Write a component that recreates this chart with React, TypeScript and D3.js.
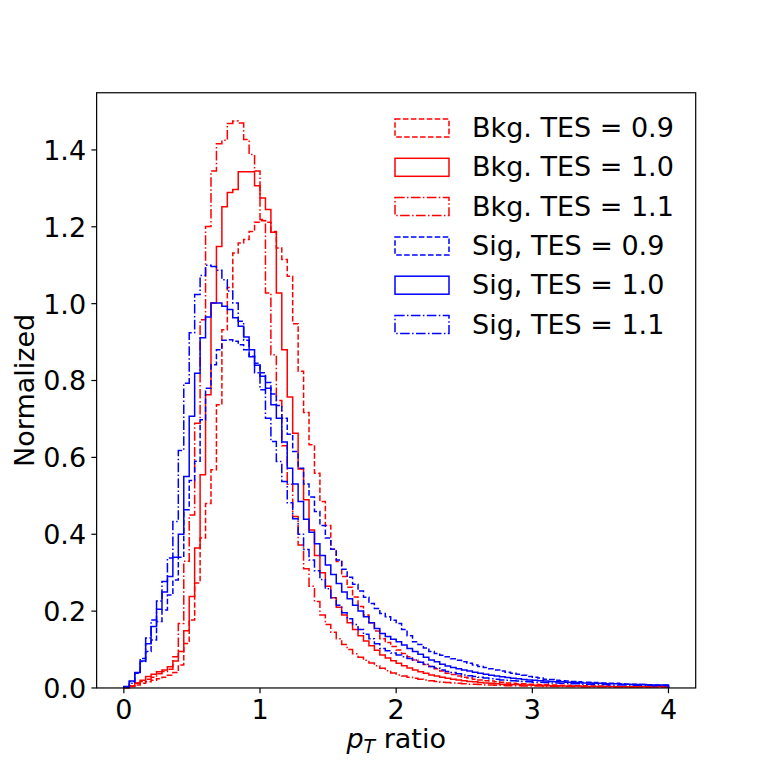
import React from 'react';
import * as d3 from 'd3';

// histogram bins: 100 bins of width 0.04 between 0 and 4
const BIN_MIN = 0;
const BIN_MAX = 4;
const N_BINS = 100;

const bkg09 = [
  0.002, 0.005, 0.008, 0.012, 0.016, 0.02, 0.024, 0.028, 0.033, 0.04,
  0.06, 0.116, 0.177, 0.273, 0.39, 0.48, 0.568, 0.737, 0.932, 1.042,
  1.132, 1.158, 1.167, 1.188, 1.212, 1.216, 1.212, 1.188, 1.145, 1.115,
  1.071, 0.948, 0.824, 0.717, 0.633, 0.559, 0.485, 0.423, 0.361, 0.329,
  0.29, 0.262, 0.237, 0.212, 0.19, 0.17, 0.148, 0.128, 0.118, 0.108,
  0.099, 0.09, 0.081, 0.073, 0.067, 0.061, 0.056, 0.05, 0.044, 0.038,
  0.035, 0.031, 0.028, 0.026, 0.023, 0.021, 0.019, 0.018, 0.016, 0.015,
  0.013, 0.012, 0.011, 0.011, 0.01, 0.01, 0.009, 0.009, 0.008, 0.008,
  0.007, 0.007, 0.006, 0.006, 0.006, 0.005, 0.005, 0.005, 0.005, 0.004,
  0.004, 0.004, 0.004, 0.004, 0.003, 0.003, 0.003, 0.003, 0.003, 0.003,
];

const bkg10 = [
  0.0, 0.004, 0.012, 0.02, 0.03, 0.036, 0.042, 0.047, 0.055, 0.07,
  0.095, 0.149, 0.238, 0.364, 0.555, 0.763, 1.002, 1.149, 1.252, 1.289,
  1.297, 1.343, 1.343, 1.343, 1.307, 1.275, 1.245, 1.186, 1.028, 0.88,
  0.757, 0.663, 0.57, 0.49, 0.411, 0.345, 0.3, 0.265, 0.235, 0.21,
  0.19, 0.17, 0.152, 0.136, 0.122, 0.11, 0.098, 0.086, 0.078, 0.071,
  0.064, 0.058, 0.052, 0.047, 0.042, 0.038, 0.034, 0.031, 0.028, 0.025,
  0.023, 0.021, 0.019, 0.017, 0.016, 0.014, 0.013, 0.012, 0.011, 0.01,
  0.01, 0.009, 0.009, 0.008, 0.008, 0.007, 0.007, 0.006, 0.006, 0.006,
  0.005, 0.005, 0.005, 0.005, 0.004, 0.004, 0.004, 0.004, 0.004, 0.004,
  0.003, 0.003, 0.003, 0.003, 0.003, 0.003, 0.003, 0.003, 0.003, 0.003,
];

const bkg11 = [
  0.002, 0.006, 0.013, 0.017, 0.023, 0.028, 0.037, 0.043, 0.049, 0.081,
  0.168, 0.33, 0.45, 0.689, 0.958, 1.201, 1.345, 1.416, 1.425, 1.469,
  1.475, 1.47, 1.427, 1.388, 1.345, 1.219, 1.028, 0.867, 0.748, 0.63,
  0.53, 0.446, 0.372, 0.31, 0.265, 0.225, 0.19, 0.165, 0.145, 0.128,
  0.113, 0.1, 0.089, 0.08, 0.072, 0.065, 0.058, 0.051, 0.045, 0.039,
  0.034, 0.031, 0.028, 0.025, 0.023, 0.021, 0.019, 0.017, 0.015, 0.014,
  0.013, 0.012, 0.011, 0.01, 0.01, 0.009, 0.008, 0.008, 0.007, 0.007,
  0.006, 0.006, 0.006, 0.005, 0.005, 0.005, 0.005, 0.004, 0.004, 0.004,
  0.004, 0.004, 0.004, 0.004, 0.003, 0.003, 0.003, 0.003, 0.003, 0.003,
  0.003, 0.003, 0.003, 0.003, 0.003, 0.003, 0.003, 0.003, 0.003, 0.003,
];

const sig09 = [
  0.002, 0.017, 0.038, 0.069, 0.095, 0.125, 0.173, 0.203, 0.242, 0.281,
  0.34, 0.464, 0.54, 0.59, 0.698, 0.78, 0.841, 0.88, 0.905, 0.906,
  0.902, 0.893, 0.88, 0.863, 0.845, 0.82, 0.795, 0.765, 0.735, 0.702,
  0.66, 0.615, 0.572, 0.531, 0.497, 0.459, 0.423, 0.39, 0.361, 0.333,
  0.309, 0.288, 0.27, 0.252, 0.236, 0.22, 0.207, 0.194, 0.185, 0.176,
  0.168, 0.152, 0.136, 0.12, 0.113, 0.104, 0.095, 0.09, 0.085, 0.081,
  0.076, 0.072, 0.068, 0.064, 0.06, 0.056, 0.053, 0.05, 0.047, 0.044,
  0.041, 0.038, 0.036, 0.033, 0.03, 0.028, 0.026, 0.023, 0.022, 0.02,
  0.019, 0.018, 0.017, 0.016, 0.015, 0.015, 0.014, 0.013, 0.013, 0.012,
  0.012, 0.011, 0.01, 0.01, 0.009, 0.009, 0.008, 0.008, 0.007, 0.007,
];

const sig10 = [
  0.003, 0.018, 0.04, 0.07, 0.115, 0.16, 0.205, 0.25, 0.29, 0.34,
  0.4, 0.55, 0.707, 0.819, 0.911, 0.965, 1.002, 1.002, 0.993, 0.985,
  0.963, 0.941, 0.913, 0.88, 0.84, 0.811, 0.78, 0.737, 0.702, 0.64,
  0.572, 0.531, 0.485, 0.439, 0.405, 0.375, 0.345, 0.32, 0.295, 0.272,
  0.25, 0.232, 0.215, 0.2, 0.185, 0.17, 0.155, 0.142, 0.134, 0.127,
  0.12, 0.112, 0.103, 0.095, 0.088, 0.08, 0.073, 0.068, 0.062, 0.057,
  0.053, 0.05, 0.047, 0.044, 0.041, 0.038, 0.036, 0.033, 0.031, 0.029,
  0.027, 0.025, 0.024, 0.022, 0.021, 0.02, 0.019, 0.018, 0.017, 0.016,
  0.016, 0.015, 0.014, 0.014, 0.013, 0.013, 0.012, 0.012, 0.011, 0.011,
  0.011, 0.01, 0.01, 0.009, 0.009, 0.009, 0.008, 0.008, 0.008, 0.008,
];

const sig11 = [
  0.004, 0.012, 0.038, 0.077, 0.13, 0.177, 0.226, 0.277, 0.338, 0.433,
  0.618, 0.793, 0.924, 1.024, 1.073, 1.1, 1.097, 1.087, 1.062, 1.033,
  1.002, 0.954, 0.905, 0.862, 0.82, 0.776, 0.702, 0.641, 0.589, 0.537,
  0.482, 0.44, 0.4, 0.36, 0.333, 0.305, 0.282, 0.258, 0.235, 0.215,
  0.196, 0.18, 0.165, 0.152, 0.14, 0.128, 0.115, 0.103, 0.097, 0.091,
  0.086, 0.081, 0.077, 0.073, 0.067, 0.062, 0.056, 0.052, 0.047, 0.043,
  0.04, 0.037, 0.034, 0.032, 0.03, 0.028, 0.026, 0.024, 0.023, 0.021,
  0.02, 0.019, 0.018, 0.017, 0.016, 0.015, 0.015, 0.014, 0.013, 0.013,
  0.012, 0.012, 0.011, 0.011, 0.01, 0.01, 0.009, 0.009, 0.009, 0.008,
  0.008, 0.008, 0.008, 0.007, 0.007, 0.007, 0.007, 0.006, 0.006, 0.006,
];

const seriesLabels = [
  'Bkg. TES = 0.9',
  'Bkg. TES = 1.0',
  'Bkg. TES = 1.1',
  'Sig, TES = 0.9',
  'Sig, TES = 1.0',
  'Sig, TES = 1.1',
];
const seriesValues = [bkg09, bkg10, bkg11, sig09, sig10, sig11];
const seriesColors = ['#ff0000', '#ff0000', '#ff0000', '#0000ff', '#0000ff', '#0000ff'];
const seriesStyles = ['dashed', 'solid', 'dashdot', 'dashed', 'solid', 'dashdot'];

const xTicks = [0, 1, 2, 3, 4];
const yTicks = [0, 0.2, 0.4, 0.6, 0.8, 1.0, 1.2, 1.4];

const W = 773;
const H = 773;
const FONT = 'DejaVu Sans';

// matplotlib default subplot box
const margin = { left: 0.125 * W, right: 0.9 * W, top: 0.12 * H, bottom: 0.89 * H };

// points -> pixels
const PT = 1.5;
const dashFor = (s: string) =>
  s === 'dashed'
    ? `${3.7 * PT},${1.6 * PT}`
    : s === 'dashdot'
    ? `${6.4 * PT},${1.6 * PT},${1 * PT},${1.6 * PT}`
    : undefined;

const App: React.FC = () => {
  const edges = d3.range(N_BINS + 1).map(i => BIN_MIN + (i * (BIN_MAX - BIN_MIN)) / N_BINS);
  const span = BIN_MAX - BIN_MIN;
  const x = d3
    .scaleLinear()
    .domain([BIN_MIN - 0.05 * span, BIN_MAX + 0.05 * span])
    .range([margin.left, margin.right]);
  const yMax = d3.max(seriesValues.flat())! * 1.05;
  const y = d3.scaleLinear().domain([0, yMax]).range([margin.bottom, margin.top]);

  const line = d3
    .line<[number, number]>()
    .x(d => x(d[0]))
    .y(d => y(d[1]));

  const stepPath = (vals: number[]) => {
    const pts: [number, number][] = [[edges[0], 0]];
    vals.forEach((v, i) => {
      pts.push([edges[i], v]);
      pts.push([edges[i + 1], v]);
    });
    pts.push([edges[N_BINS], 0]);
    return line(pts) || '';
  };

  const tickLen = 3.5 * PT;
  const tickPad = 3.5 * PT;
  const tickFont = 27;
  const labelFont = 27;
  const legendFont = 27;
  const lw = 1 * PT;

  // legend layout
  const legX = 395;
  const legW = 54;
  const legH = 18;
  const legTextX = 472;
  const legBase0 = 137;
  const legStep = 39.3;

  return (
    <div style={{ position: 'absolute', left: 0, top: 0 }}>
      <svg width={W} height={H} style={{ display: 'block', background: '#fff', fontFamily: FONT }}>
        <rect x={0} y={0} width={W} height={H} fill="#fff" />

        {/* histograms */}
        {seriesValues.map((vals, i) => (
          <path
            key={seriesLabels[i]}
            d={stepPath(vals)}
            fill="none"
            stroke={seriesColors[i]}
            strokeWidth={lw}
            strokeDasharray={dashFor(seriesStyles[i])}
            strokeLinejoin="miter"
          />
        ))}

        {/* frame */}
        <rect
          x={margin.left}
          y={margin.top}
          width={margin.right - margin.left}
          height={margin.bottom - margin.top}
          fill="none"
          stroke="#000"
          strokeWidth={0.8 * PT}
        />

        {/* x axis ticks */}
        {xTicks.map(t => (
          <g key={`x${t}`}>
            <line
              x1={x(t)}
              x2={x(t)}
              y1={margin.bottom}
              y2={margin.bottom + tickLen}
              stroke="#000"
              strokeWidth={0.8 * PT}
            />
            <text
              x={x(t)}
              y={margin.bottom + tickLen + tickPad + 0.76 * tickFont}
              textAnchor="middle"
              fontSize={tickFont}
              fill="#000"
            >
              {t}
            </text>
          </g>
        ))}

        {/* y axis ticks */}
        {yTicks.map(t => (
          <g key={`y${t}`}>
            <line
              x1={margin.left - tickLen}
              x2={margin.left}
              y1={y(t)}
              y2={y(t)}
              stroke="#000"
              strokeWidth={0.8 * PT}
            />
            <text
              x={margin.left - tickLen - tickPad}
              y={y(t) + 0.365 * tickFont}
              textAnchor="end"
              fontSize={tickFont}
              fill="#000"
            >
              {d3.format('.1f')(t)}
            </text>
          </g>
        ))}

        {/* axis labels */}
        <text x={(margin.left + margin.right) / 2} y={748} textAnchor="middle" fontSize={labelFont} fill="#000">
          <tspan fontStyle="italic">p</tspan>
          <tspan fontStyle="italic" fontSize={labelFont * 0.7} dy={5}>
            T
          </tspan>
          <tspan dy={-5}> ratio</tspan>
        </text>
        <text
          transform={`translate(33.5,${(margin.top + margin.bottom) / 2}) rotate(-90)`}
          textAnchor="middle"
          fontSize={labelFont}
          fill="#000"
        >
          Normalized
        </text>

        {/* legend */}
        {seriesLabels.map((lab, i) => {
          const base = legBase0 + i * legStep;
          return (
            <g key={`leg${lab}`}>
              <rect
                x={legX}
                y={base - legH}
                width={legW}
                height={legH}
                fill="none"
                stroke={seriesColors[i]}
                strokeWidth={lw}
                strokeDasharray={dashFor(seriesStyles[i])}
              />
              <text x={legTextX} y={base} fontSize={legendFont} fill="#000">
                {lab}
              </text>
            </g>
          );
        })}
      </svg>
    </div>
  );
};

export default App;
